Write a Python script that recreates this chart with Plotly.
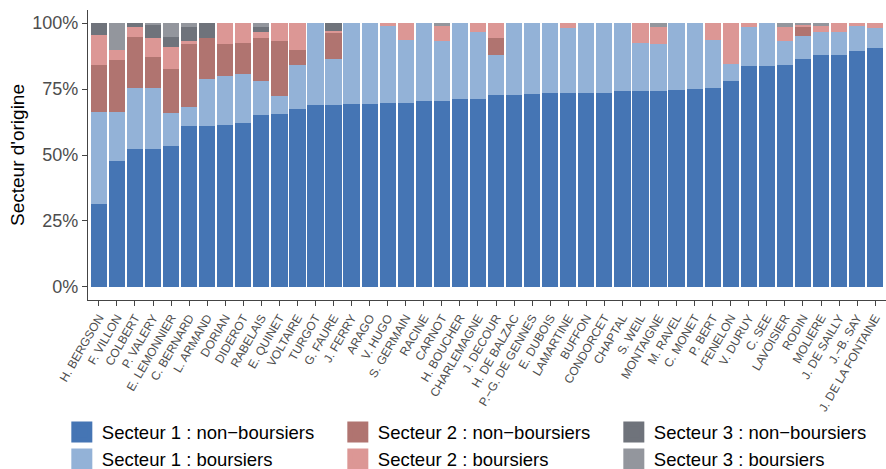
import plotly.graph_objects as go

schools = ["H. BERGSON", "F. VILLON", "COLBERT", "P. VALERY", "E. LEMONNIER", "C. BERNARD",
           "L. ARMAND", "DORIAN", "DIDEROT", "RABELAIS", "E. QUINET", "VOLTAIRE", "TURGOT",
           "G. FAURE", "J. FERRY", "ARAGO", "V. HUGO", "S. GERMAIN", "RACINE", "CARNOT",
           "H. BOUCHER", "CHARLEMAGNE", "J. DECOUR", "H. DE BALZAC", "P.−G. DE GENNES",
           "E. DUBOIS", "LAMARTINE", "BUFFON", "CONDORCET", "CHAPTAL", "S. WEIL", "MONTAIGNE",
           "M. RAVEL", "C. MONET", "P. BERT", "FENELON", "V. DURUY", "C. SEE", "LAVOISIER",
           "RODIN", "MOLIERE", "J. DE SAILLY", "J.−B. SAY", "J. DE LA FONTAINE"]

s1_non_boursiers = [31.4, 47.6, 52.1, 52.1, 53.3, 60.9, 60.9, 61.2, 62.0, 65.0, 65.4, 67.3, 68.8,
                    68.8, 69.2, 69.2, 69.6, 69.6, 70.3, 70.3, 71.1, 71.1, 72.6, 72.6, 73.0, 73.4,
                    73.4, 73.7, 73.7, 74.1, 74.1, 74.1, 74.5, 74.9, 75.6, 77.9, 83.6, 83.6, 84.3,
                    86.6, 87.8, 88.1, 89.3, 90.4]
s1_boursiers = [35.1, 18.9, 23.2, 23.5, 12.5, 7.2, 18.1, 18.6, 18.9, 12.9, 6.8, 17.0, 31.2,
                17.8, 30.8, 30.8, 29.5, 24.2, 29.7, 22.8, 28.9, 25.7, 15.2, 27.4, 27.0, 26.6,
                24.7, 26.3, 26.3, 25.9, 18.2, 17.9, 25.5, 25.1, 18.2, 6.6, 14.8, 16.4, 8.8,
                8.7, 9.0, 8.7, 9.6, 7.7]
s2_non_boursiers = [17.8, 19.4, 19.3, 11.4, 17.0, 23.9, 15.2, 12.2, 11.5, 16.3, 21.2, 5.7, 0,
                    9.9, 0, 0, 0, 0, 0, 0, 0, 0, 6.4, 0, 0, 0, 0, 0, 0, 0, 0, 0, 0, 0, 0, 0, 0,
                    0, 0, 3.1, 0, 0, 0, 0]
s2_boursiers = [11.4, 4.1, 4.1, 7.2, 8.0, 1.1, 0, 8.0, 7.6, 2.6, 6.6, 10.0, 0, 0.7, 0, 0, 0.9,
                6.2, 0, 6.0, 0, 3.2, 5.8, 0, 0, 0, 1.9, 0, 0, 0, 7.7, 6.4, 0, 0, 6.2, 15.5, 1.6,
                0, 5.6, 1.0, 2.3, 3.2, 1.1, 1.9]
s3_non_boursiers = [4.3, 0, 1.3, 5.0, 3.8, 5.6, 5.8, 0, 0, 1.6, 0, 0, 0, 2.8, 0, 0, 0, 0, 0, 0,
                    0, 0, 0, 0, 0, 0, 0, 0, 0, 0, 0, 0, 0, 0, 0, 0, 0, 0, 0, 0, 0, 0, 0, 0]
s3_boursiers = [0, 10.0, 0, 0.8, 5.4, 1.3, 0, 0, 0, 1.6, 0, 0, 0, 0, 0, 0, 0, 0, 0, 0.9, 0, 0,
                0, 0, 0, 0, 0, 0, 0, 0, 0, 1.6, 0, 0, 0, 0, 0, 0, 1.3, 0.6, 0.9, 0, 0, 0]

series_names = ["Secteur 1 : non−boursiers", "Secteur 1 : boursiers",
                "Secteur 2 : non−boursiers", "Secteur 2 : boursiers",
                "Secteur 3 : non−boursiers", "Secteur 3 : boursiers"]
series_values = [s1_non_boursiers, s1_boursiers, s2_non_boursiers, s2_boursiers,
                 s3_non_boursiers, s3_boursiers]
colors = ["#4575B4", "#93B2D7", "#B07470", "#DC9795", "#6F737B", "#93969D"]
legend_ranks = [1, 4, 2, 5, 3, 6]

FONT = "Liberation Sans, Arial, sans-serif"

fig = go.Figure()
for name, vals, col in zip(series_names, series_values, colors):
    fig.add_trace(go.Bar(
        x=schools, y=[v / 100 for v in vals], name=name,
        marker=dict(color=col, line=dict(width=0)),
        showlegend=False,
        hovertemplate="%{x}<br>" + name + " : %{y:.1%}<extra></extra>",
    ))
# legend-only entries with larger swatches
for name, col, rank in zip(series_names, colors, legend_ranks):
    fig.add_trace(go.Scatter(
        x=[None], y=[None], mode="markers", name=name, legendrank=rank,
        marker=dict(symbol="square", size=16, color=col, line=dict(color=col, width=5)),
        showlegend=True, hoverinfo="skip",
    ))

fig.update_layout(
    width=886, height=469,
    margin=dict(l=88, r=0, t=10, b=169, autoexpand=False),
    barmode="stack", bargap=0.1,
    paper_bgcolor="white", plot_bgcolor="white",
    font=dict(family=FONT, color="black"),
    showlegend=True,
    legend=dict(
        orientation="h", xref="paper", yref="paper",
        x=-0.0328, y=-0.391, xanchor="left", yanchor="top",
        entrywidth=231, entrywidthmode="pixels",
        font=dict(size=18.5, family=FONT, color="black"),
        traceorder="normal", tracegroupgap=0, itemclick=False,
        bgcolor="rgba(0,0,0,0)",
    ),
    xaxis=dict(
        type="category", range=[-0.6, 43.6], tickangle=-60,
        tickfont=dict(size=12, color="#4D4D4D", family=FONT),
        showline=True, linecolor="#444444", linewidth=1.2,
        ticks="outside", ticklen=5, tickcolor="#444444", tickwidth=1.1,
        showgrid=False, zeroline=False, automargin=False, fixedrange=True,
    ),
    yaxis=dict(
        range=[-0.05, 1.05], tickvals=[0, 0.25, 0.5, 0.75, 1.0],
        ticktext=["0%", "25%", "50%", "75%", "100%"],
        tickfont=dict(size=18, color="#4D4D4D", family=FONT),
        title=dict(text="Secteur d'origine", font=dict(size=19, color="black", family=FONT),
                   standoff=2),
        showline=True, linecolor="#444444", linewidth=1.2,
        ticks="outside", ticklen=5, tickcolor="#444444", tickwidth=1.1,
        showgrid=False, zeroline=False, automargin=False, fixedrange=True,
    ),
)

fig.write_html(
    "out.html",
    config={"displayModeBar": False},
    post_script="document.body.style.margin='0';document.body.style.overflow='hidden';",
)
